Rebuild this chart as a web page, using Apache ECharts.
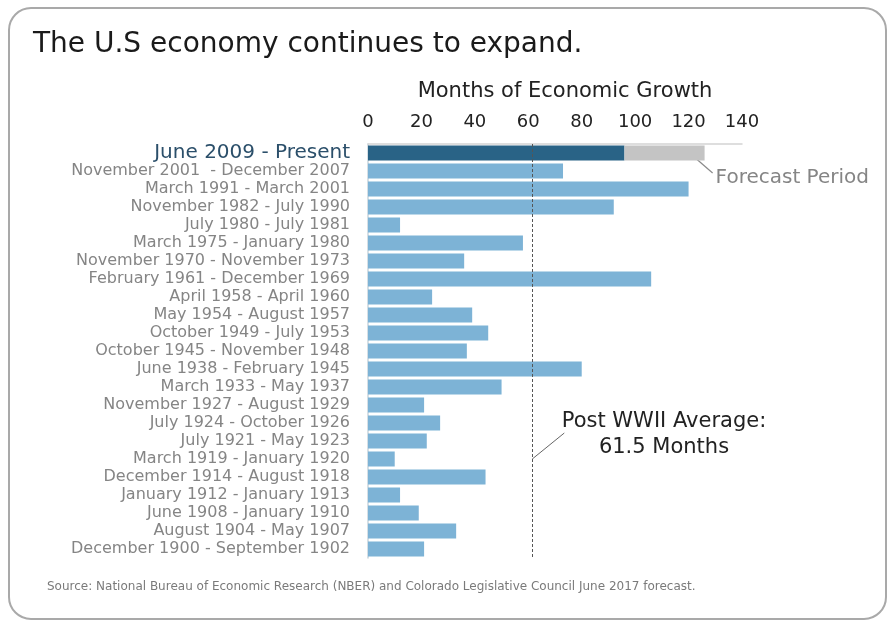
<!DOCTYPE html>
<html>
<head>
<meta charset="utf-8">
<style>
  html, body { margin: 0; padding: 0; background: #ffffff; }
  #chart { width: 892px; height: 623px; }
</style>
<script src="https://cdn.jsdelivr.net/npm/echarts@6/dist/echarts.min.js"></script>
</head>
<body>
<div id="chart"></div>
<script>
// U.S. expansions, newest first (months from trough to peak)
const periods = [
  'June 2009 - Present',
  'November 2001  - December 2007',
  'March 1991 - March 2001',
  'November 1982 - July 1990',
  'July 1980 - July 1981',
  'March 1975 - January 1980',
  'November 1970 - November 1973',
  'February 1961 - December 1969',
  'April 1958 - April 1960',
  'May 1954 - August 1957',
  'October 1949 - July 1953',
  'October 1945 - November 1948',
  'June 1938 - February 1945',
  'March 1933 - May 1937',
  'November 1927 - August 1929',
  'July 1924 - October 1926',
  'July 1921 - May 1923',
  'March 1919 - January 1920',
  'December 1914 - August 1918',
  'January 1912 - January 1913',
  'June 1908 - January 1910',
  'August 1904 - May 1907',
  'December 1900 - September 1902'
];
const months = [96, 73, 120, 92, 12, 58, 36, 106, 24, 39, 45, 37, 80, 50, 21, 27, 22, 10, 44, 12, 19, 33, 21];
// additional months projected for the current expansion
const forecastMonths = [30, 0, 0, 0, 0, 0, 0, 0, 0, 0, 0, 0, 0, 0, 0, 0, 0, 0, 0, 0, 0, 0, 0];
const postWarAverage = 61.5;
const monthTicks = [0, 20, 40, 60, 80, 100, 120, 140];

const FONT = 'DejaVu Sans';
const chart = echarts.init(document.getElementById('chart'), null, { renderer: 'canvas' });

const grid = { left: 368, right: 150, top: 144, bottom: 65 };

chart.setOption({
  animation: false,
  backgroundColor: '#ffffff',
  textStyle: { fontFamily: FONT },
  grid: grid,
  xAxis: {
    type: 'value',
    position: 'top',
    min: monthTicks[0],
    max: monthTicks[monthTicks.length - 1],
    interval: monthTicks[1] - monthTicks[0],
    axisLine: { show: true, lineStyle: { color: '#d4d4d4', width: 1.5 } },
    axisTick: { show: false },
    splitLine: { show: false },
    axisLabel: { color: '#222', fontSize: 18, margin: 13, fontFamily: FONT }
  },
  yAxis: {
    type: 'category',
    inverse: true,
    data: periods,
    axisLine: { show: true, lineStyle: { color: '#c8d4dc', width: 1.5 } },
    axisTick: { show: false },
    axisLabel: {
      margin: 18,
      interval: 0,
      fontFamily: FONT,
      formatter: function (v, i) { return i === 0 ? '{cur|' + v + '}' : '{old|' + v + '}'; },
      rich: {
        cur: { color: '#2b4f6a', fontSize: 20, fontFamily: FONT },
        old: { color: '#858585', fontSize: 16, fontFamily: FONT }
      }
    }
  },
  series: [
    {
      name: 'Months of growth',
      type: 'bar',
      stack: 'expansion',
      barWidth: 15,
      data: months.map(function (m, i) {
        return { value: m, itemStyle: { color: i === 0 ? '#296386' : '#7db3d6' } };
      }),
      markLine: {
        silent: true,
        symbol: 'none',
        label: { show: false },
        lineStyle: { type: [3, 2], color: '#555', width: 1 },
        data: [{ xAxis: postWarAverage }]
      }
    },
    {
      name: 'Forecast',
      type: 'bar',
      stack: 'expansion',
      barWidth: 15,
      itemStyle: { color: '#c4c4c4' },
      data: forecastMonths
    }
  ]
});

// Annotations anchored to data positions
const forecastEnd = chart.convertToPixel({ gridIndex: 0 }, [months[0] + forecastMonths[0], 0]);
const avgPt = chart.convertToPixel({ gridIndex: 0 }, [postWarAverage, periods[17]]);
const plotRight = chart.convertToPixel({ gridIndex: 0 }, [monthTicks[monthTicks.length - 1], 0])[0];
const plotLeft = chart.convertToPixel({ gridIndex: 0 }, [0, 0])[0];

chart.setOption({
  graphic: [
    {
      type: 'rect',
      shape: { x: 9, y: 8, width: 877, height: 611, r: 22 },
      style: { fill: 'none', stroke: '#a9a9a9', lineWidth: 2 },
      silent: true
    },
    {
      type: 'text',
      left: 33, top: 31,
      style: { text: 'The U.S economy continues to expand.', fill: '#1a1a1a', font: '28px "' + FONT + '"' }
    },
    {
      type: 'text',
      x: (plotLeft + plotRight) / 2 + 10, y: 92,
      style: {
        text: 'Months of Economic Growth', fill: '#222',
        font: '21px "' + FONT + '"', align: 'center', verticalAlign: 'middle'
      }
    },
    {
      type: 'line',
      shape: { x1: forecastEnd[0] - 15, y1: forecastEnd[1], x2: forecastEnd[0] + 8, y2: forecastEnd[1] + 20 },
      style: { stroke: '#8a8a8a', lineWidth: 1.2 }
    },
    {
      type: 'text',
      x: forecastEnd[0] + 11, y: 178,
      style: { text: 'Forecast Period', fill: '#858585', font: '20px "' + FONT + '"', verticalAlign: 'middle' }
    },
    {
      type: 'line',
      shape: { x1: avgPt[0], y1: avgPt[1], x2: avgPt[0] + 32, y2: avgPt[1] - 26 },
      style: { stroke: '#666', lineWidth: 1 }
    },
    {
      type: 'text',
      x: 664, y: 422,
      style: { text: 'Post WWII Average:', fill: '#222', font: '21px "' + FONT + '"', align: 'center', verticalAlign: 'middle' }
    },
    {
      type: 'text',
      x: 664, y: 448,
      style: { text: postWarAverage + ' Months', fill: '#222', font: '21px "' + FONT + '"', align: 'center', verticalAlign: 'middle' }
    },
    {
      type: 'text',
      left: 47, top: 581,
      style: {
        text: 'Source: National Bureau of Economic Research (NBER) and Colorado Legislative Council June 2017 forecast.',
        fill: '#7a7a7a', font: '12px "' + FONT + '"'
      }
    }
  ]
});
</script>
</body>
</html>
